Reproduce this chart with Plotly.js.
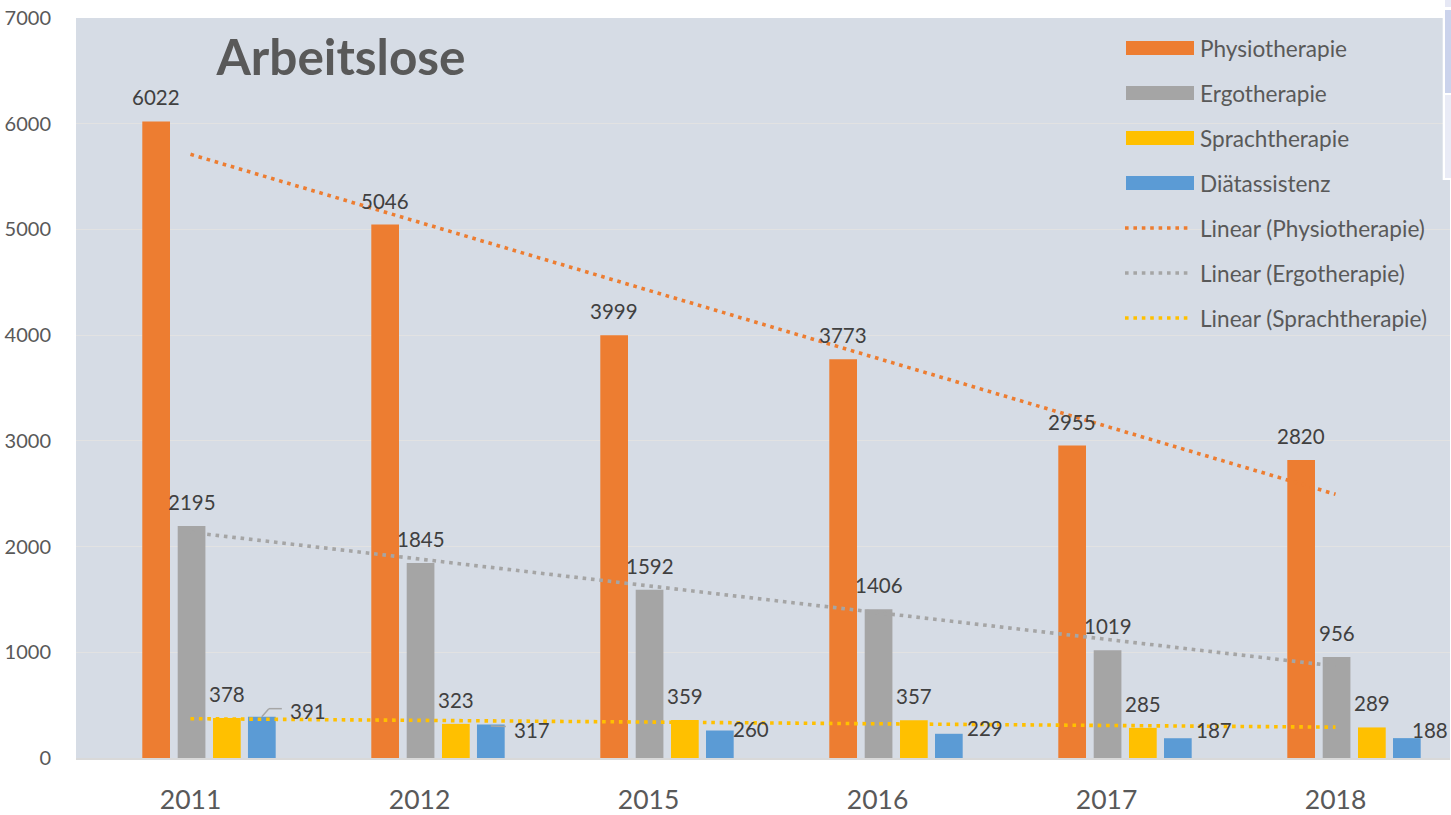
<!DOCTYPE html>
<html>
<head>
<meta charset="utf-8">
<script src="https://cdn.plot.ly/plotly-3.0.1.min.js"></script>
<style>html,body{margin:0;padding:0;background:#fff;}#chart{width:1451px;height:815px;}</style>
</head>
<body>
<div id="chart"></div>
<script>
// ---- data ----
const categories = ['2011', '2012', '2015', '2016', '2017', '2018'];
const physio = [6022, 5046, 3999, 3773, 2955, 2820];
const ergo   = [2195, 1845, 1592, 1406, 1019, 956];
const sprach = [378, 323, 359, 357, 285, 289];
const diaet  = [391, 317, 260, 229, 187, 188];
const seriesNames = ['Physiotherapie', 'Ergotherapie', 'Sprachtherapie', 'Diätassistenz'];
const trendNames = ['Linear (Physiotherapie)', 'Linear (Ergotherapie)', 'Linear (Sprachtherapie)'];
const yTickVals = [0, 1000, 2000, 3000, 4000, 5000, 6000, 7000];

// ---- styling ----
const colors = ['#ED7D31', '#A5A5A5', '#FFC000', '#5B9BD5'];
const BAR_W = 0.121;
const offsets = [-0.2105, -0.0559, 0.0983, 0.251];
const FONT = 'Lato, Carlito, Calibri, "Open Sans", sans-serif';
const TXT = '#595959';
const LBL = '#404040';
const DOT = '3.6px,4.8px';
// pixel shifts of the Diätassistenz labels (Excel-moved labels)
const blueShift = [[46, 6], [41, -5.5], [31, 2], [36, 6], [36.5, 8], [23.5, 8]];

const idx = categories.map((_, i) => i);
const allSeries = [physio, ergo, sprach, diaet];

function linfit(vals) {
  const n = vals.length;
  const xs = vals.map((_, i) => i + 1);
  const mx = xs.reduce((a, b) => a + b, 0) / n;
  const my = vals.reduce((a, b) => a + b, 0) / n;
  let sxy = 0, sxx = 0;
  for (let i = 0; i < n; i++) { sxy += (xs[i] - mx) * (vals[i] - my); sxx += (xs[i] - mx) ** 2; }
  const b = sxy / sxx, a = my - b * mx;
  return xs.map(x => a + b * x);
}

const traces = [];
allSeries.forEach((vals, s) => {
  traces.push({
    type: 'bar', name: seriesNames[s], x: idx, y: vals,
    width: BAR_W, offset: offsets[s],
    marker: { color: colors[s], line: { width: 0 } },
    showlegend: false, hoverinfo: 'y'
  });
});
[physio, ergo, sprach].forEach((vals, s) => {
  traces.push({
    type: 'scatter', mode: 'lines', name: trendNames[s], x: idx, y: linfit(vals),
    line: { color: colors[s], width: 3.6, dash: DOT },
    showlegend: false, hoverinfo: 'skip'
  });
});

const annotations = [];
allSeries.forEach((vals, s) => {
  vals.forEach((v, i) => {
    const a = {
      x: i + offsets[s] + BAR_W / 2, y: v, xref: 'x', yref: 'y',
      text: String(v), showarrow: false, xanchor: 'center', yanchor: 'middle',
      font: { family: FONT, size: 20.5, color: LBL }, yshift: 24
    };
    if (s === 3) { a.xshift = blueShift[i][0]; a.yshift = blueShift[i][1]; }
    annotations.push(a);
  });
});

// custom legend (pixel positions relative to top-right corner of plot area)
const legendItems = seriesNames.map((n, i) => ({ name: n, color: colors[i], kind: 'bar' }))
  .concat(trendNames.map((n, i) => ({ name: n, color: colors[i], kind: 'line' })));
const shapes = [];
legendItems.forEach((it, k) => {
  const yc = -30 - 45 * k;
  if (it.kind === 'bar') {
    shapes.push({ type: 'rect', xref: 'paper', yref: 'paper', xsizemode: 'pixel', ysizemode: 'pixel',
      xanchor: 1, yanchor: 1, x0: -324, x1: -256, y0: yc - 7, y1: yc + 7,
      fillcolor: it.color, line: { width: 0 }, layer: 'above' });
  } else {
    shapes.push({ type: 'line', xref: 'paper', yref: 'paper', xsizemode: 'pixel', ysizemode: 'pixel',
      xanchor: 1, yanchor: 1, x0: -325, x1: -260, y0: yc, y1: yc,
      line: { color: it.color, width: 3.6, dash: DOT }, layer: 'above' });
  }
  annotations.push({ xref: 'paper', yref: 'paper', x: 1, y: 1, xshift: -252, yshift: yc,
    xanchor: 'left', yanchor: 'middle', showarrow: false, text: it.name,
    font: { family: FONT, size: 22.6, color: TXT } });
});

// leader lines of moved labels
const lead = { type: 'line', xref: 'x', yref: 'y', xsizemode: 'pixel', ysizemode: 'pixel',
  line: { color: '#A6A6A6', width: 1.5 }, layer: 'above' };
shapes.push(Object.assign({}, lead, { xanchor: 0 + offsets[3] + BAR_W / 2, yanchor: diaet[0], x0: 0, y0: 0, x1: 7, y1: 8 }));
shapes.push(Object.assign({}, lead, { xanchor: 0 + offsets[3] + BAR_W / 2, yanchor: diaet[0], x0: 7, y0: 8, x1: 20, y1: 8 }));
shapes.push(Object.assign({}, lead, { xanchor: 1 + offsets[3] + BAR_W / 2, yanchor: diaet[1], x0: 0, y0: -1.5, x1: 15, y1: -2 }));

// window-edge artefact at the top right
const edge = { xref: 'paper', yref: 'paper', xsizemode: 'pixel', ysizemode: 'pixel', xanchor: 1, yanchor: 1,
  type: 'rect', line: { width: 0 }, layer: 'above' };
shapes.push(Object.assign({}, edge, { x0: -7.3, x1: 2, y0: 18, y1: -162, fillcolor: '#ffffff' }));
shapes.push(Object.assign({}, edge, { x0: -5, x1: 2, y0: 18, y1: 11, fillcolor: '#E6E8F5' }));
shapes.push(Object.assign({}, edge, { x0: -5, x1: 2, y0: 8, y1: -75, fillcolor: '#CBD3EC' }));
shapes.push(Object.assign({}, edge, { x0: -5, x1: 2, y0: -77, y1: -160, fillcolor: '#E9EBF6' }));

const layout = {
  width: 1451, height: 815,
  margin: { l: 76, r: 1, t: 18, b: 57 },
  paper_bgcolor: '#ffffff', plot_bgcolor: '#D6DCE5',
  barmode: 'overlay',
  showlegend: false,
  title: { text: 'Arbeitslose', x: 0.1929, xref: 'paper', xanchor: 'center', y: 1 - 58 / 815, yref: 'container', yanchor: 'middle',
    font: { family: FONT, size: 49.5, color: TXT, weight: 'bold' } },
  xaxis: {
    type: 'linear', range: [-0.5, 5.5], tickmode: 'array', tickvals: idx, ticktext: categories,
    showgrid: false, zeroline: false, showline: true, linecolor: '#D9D9D9', linewidth: 2,
    ticks: 'outside', ticklen: 17, tickcolor: 'rgba(0,0,0,0)',
    tickfont: { family: FONT, size: 26.5, color: TXT }, fixedrange: true
  },
  yaxis: {
    range: [0, 7000], tickmode: 'array', tickvals: yTickVals,
    showgrid: true, gridcolor: '#E2E2E2', gridwidth: 1, zeroline: false, showline: false,
    ticks: 'outside', ticklen: 20, tickcolor: 'rgba(0,0,0,0)',
    tickfont: { family: FONT, size: 20, color: TXT }, fixedrange: true
  },
  annotations: annotations,
  shapes: shapes
};

Plotly.newPlot('chart', traces, layout, { displayModeBar: false, staticPlot: true });
</script>
</body>
</html>
